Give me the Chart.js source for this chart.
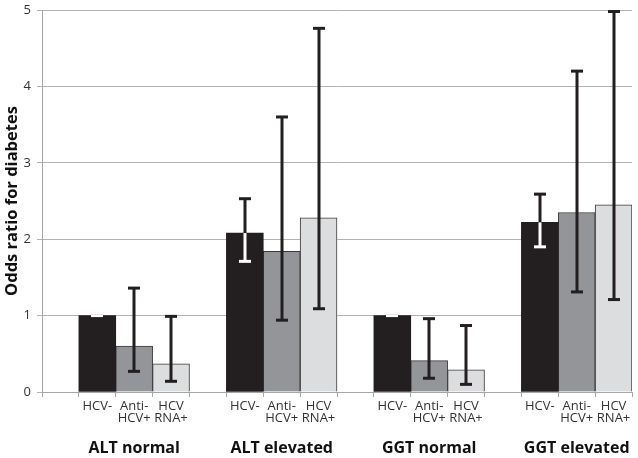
<!DOCTYPE html>
<html>
<head>
<meta charset="utf-8">
<script src="https://cdn.jsdelivr.net/npm/chart.js@4/dist/chart.umd.min.js"></script>
<style>
  html, body { margin: 0; padding: 0; background: #fff; }
  #wrap { width: 638px; height: 458px; }
</style>
</head>
<body>
<div id="wrap"><canvas id="chart" width="638" height="458"></canvas></div>
<script>
const groups = ['ALT normal', 'ALT elevated', 'GGT normal', 'GGT elevated'];
const seriesNames = ['HCV-', 'Anti-HCV+', 'HCV RNA+'];
const seriesTicks = ['HCV-', ['Anti-', 'HCV+'], ['HCV', 'RNA+']];

// odds ratio and 95% CI per group
const hcvNeg     = [1.00, 2.08, 1.00, 2.22];
const hcvNegLow  = [1.00, 1.71, 1.00, 1.90];
const hcvNegHigh = [1.00, 2.53, 1.00, 2.59];

const antiHcv     = [0.60, 1.84, 0.41, 2.35];
const antiHcvLow  = [0.27, 0.94, 0.18, 1.31];
const antiHcvHigh = [1.36, 3.60, 0.96, 4.20];

const hcvRna     = [0.37, 2.28, 0.29, 2.45];
const hcvRnaLow  = [0.14, 1.09, 0.10, 1.21];
const hcvRnaHigh = [0.99, 4.76, 0.87, 4.98];

const yTicks = [0, 1, 2, 3, 4, 5];

const colors = ['#231f20', '#939598', '#dcddde'];
const values = [hcvNeg, antiHcv, hcvRna];
const lows = [hcvNegLow, antiHcvLow, hcvRnaLow];
const highs = [hcvNegHigh, antiHcvHigh, hcvRnaHigh];

// 4 slots per group: one empty gap, then the three bars
const slotCount = groups.length * 4;
const tickLabels = [];
const groupLabels = [];
for (let i = 0; i < slotCount; i++) {
    const s = i % 4;
    tickLabels.push(s === 0 ? '' : seriesTicks[s - 1]);
    groupLabels.push(s === 2 ? groups[Math.floor(i / 4)] : '');
}

const datasets = values.map((vals, s) => {
    const data = new Array(slotCount).fill(null);
    vals.forEach((v, g) => { data[g * 4 + 1 + s] = v; });
    return {
        label: seriesNames[s],
        data: data,
        backgroundColor: colors[s],
        borderColor: s === 0 ? colors[0] : '#3a3a3a',
        borderWidth: s === 0 ? 0 : 1,
        barPercentage: 1,
        categoryPercentage: 1
    };
});

const errorBars = {
    id: 'errorBars',
    afterDatasetsDraw(chart) {
        const ctx = chart.ctx;
        const y = chart.scales.y;
        ctx.save();
        ctx.lineCap = 'butt';
        values.forEach((vals, s) => {
            const meta = chart.getDatasetMeta(s);
            vals.forEach((v, g) => {
                const bar = meta.data[g * 4 + 1 + s];
                const x = Math.round(bar.x);
                const yLo = y.getPixelForValue(lows[s][g]);
                const yHi = y.getPixelForValue(highs[s][g]);
                const yTop = y.getPixelForValue(v);
                ctx.lineWidth = 3;
                ctx.strokeStyle = '#231f20';
                ctx.beginPath();
                ctx.moveTo(x, yLo);
                ctx.lineTo(x, yHi);
                ctx.stroke();
                ctx.beginPath();
                ctx.moveTo(x - 6, yHi);
                ctx.lineTo(x + 6, yHi);
                ctx.stroke();
                ctx.strokeStyle = s === 0 ? '#ffffff' : '#231f20';
                if (s === 0 && yLo > yTop) {
                    ctx.beginPath();
                    ctx.moveTo(x, yLo);
                    ctx.lineTo(x, yTop);
                    ctx.stroke();
                }
                ctx.beginPath();
                ctx.moveTo(x - 6, yLo);
                ctx.lineTo(x + 6, yLo);
                ctx.stroke();
            });
        });
        ctx.restore();
    }
};

new Chart(document.getElementById('chart').getContext('2d'), {
    type: 'bar',
    data: { labels: tickLabels, datasets: datasets },
    options: {
        responsive: false,
        animation: false,
        layout: { padding: { top: 10, right: 6, left: 0, bottom: 0 } },
        plugins: { legend: { display: false }, tooltip: { enabled: false } },
        scales: {
            x: {
                stacked: true,
                offset: true,
                grid: { display: true, drawOnChartArea: false, offset: true, tickLength: 5, color: '#a6a6a6' },
                border: { color: '#a6a6a6' },
                ticks: { autoSkip: false, maxRotation: 0, minRotation: 0, padding: 3, color: '#333', font: { family: 'Open Sans', size: 13, lineHeight: 0.96 } },
                afterFit: (scale) => { scale.height = 36; scale.paddingLeft = 0; scale.paddingRight = 0; }
            },
            x2: {
                position: 'bottom',
                labels: groupLabels,
                offset: true,
                grid: { display: false },
                border: { display: false },
                ticks: { autoSkip: false, maxRotation: 0, minRotation: 0, padding: 3, color: '#111', font: { family: 'Open Sans', size: 16, weight: 'bold' } },
                afterFit: (scale) => { scale.height = 30; scale.paddingLeft = 0; scale.paddingRight = 0; }
            },
            y: {
                stacked: true,
                min: 0,
                max: 5,
                afterBuildTicks: (scale) => { scale.ticks = yTicks.map((v) => ({ value: v })); },
                grid: { color: '#b3b3b3', tickLength: 5 },
                border: { color: '#a6a6a6' },
                ticks: { padding: 6, color: '#333', font: { family: 'Open Sans', size: 13 } },
                title: { display: true, text: 'Odds ratio for diabetes', color: '#111', padding: { top: 2, bottom: 0 }, font: { family: 'Open Sans', size: 16.5, weight: 'bold' } },
                afterFit: (scale) => { scale.width = 42; scale.paddingTop = 0; scale.paddingBottom = 0; }
            }
        }
    },
    plugins: [errorBars]
});
</script>
</body>
</html>
